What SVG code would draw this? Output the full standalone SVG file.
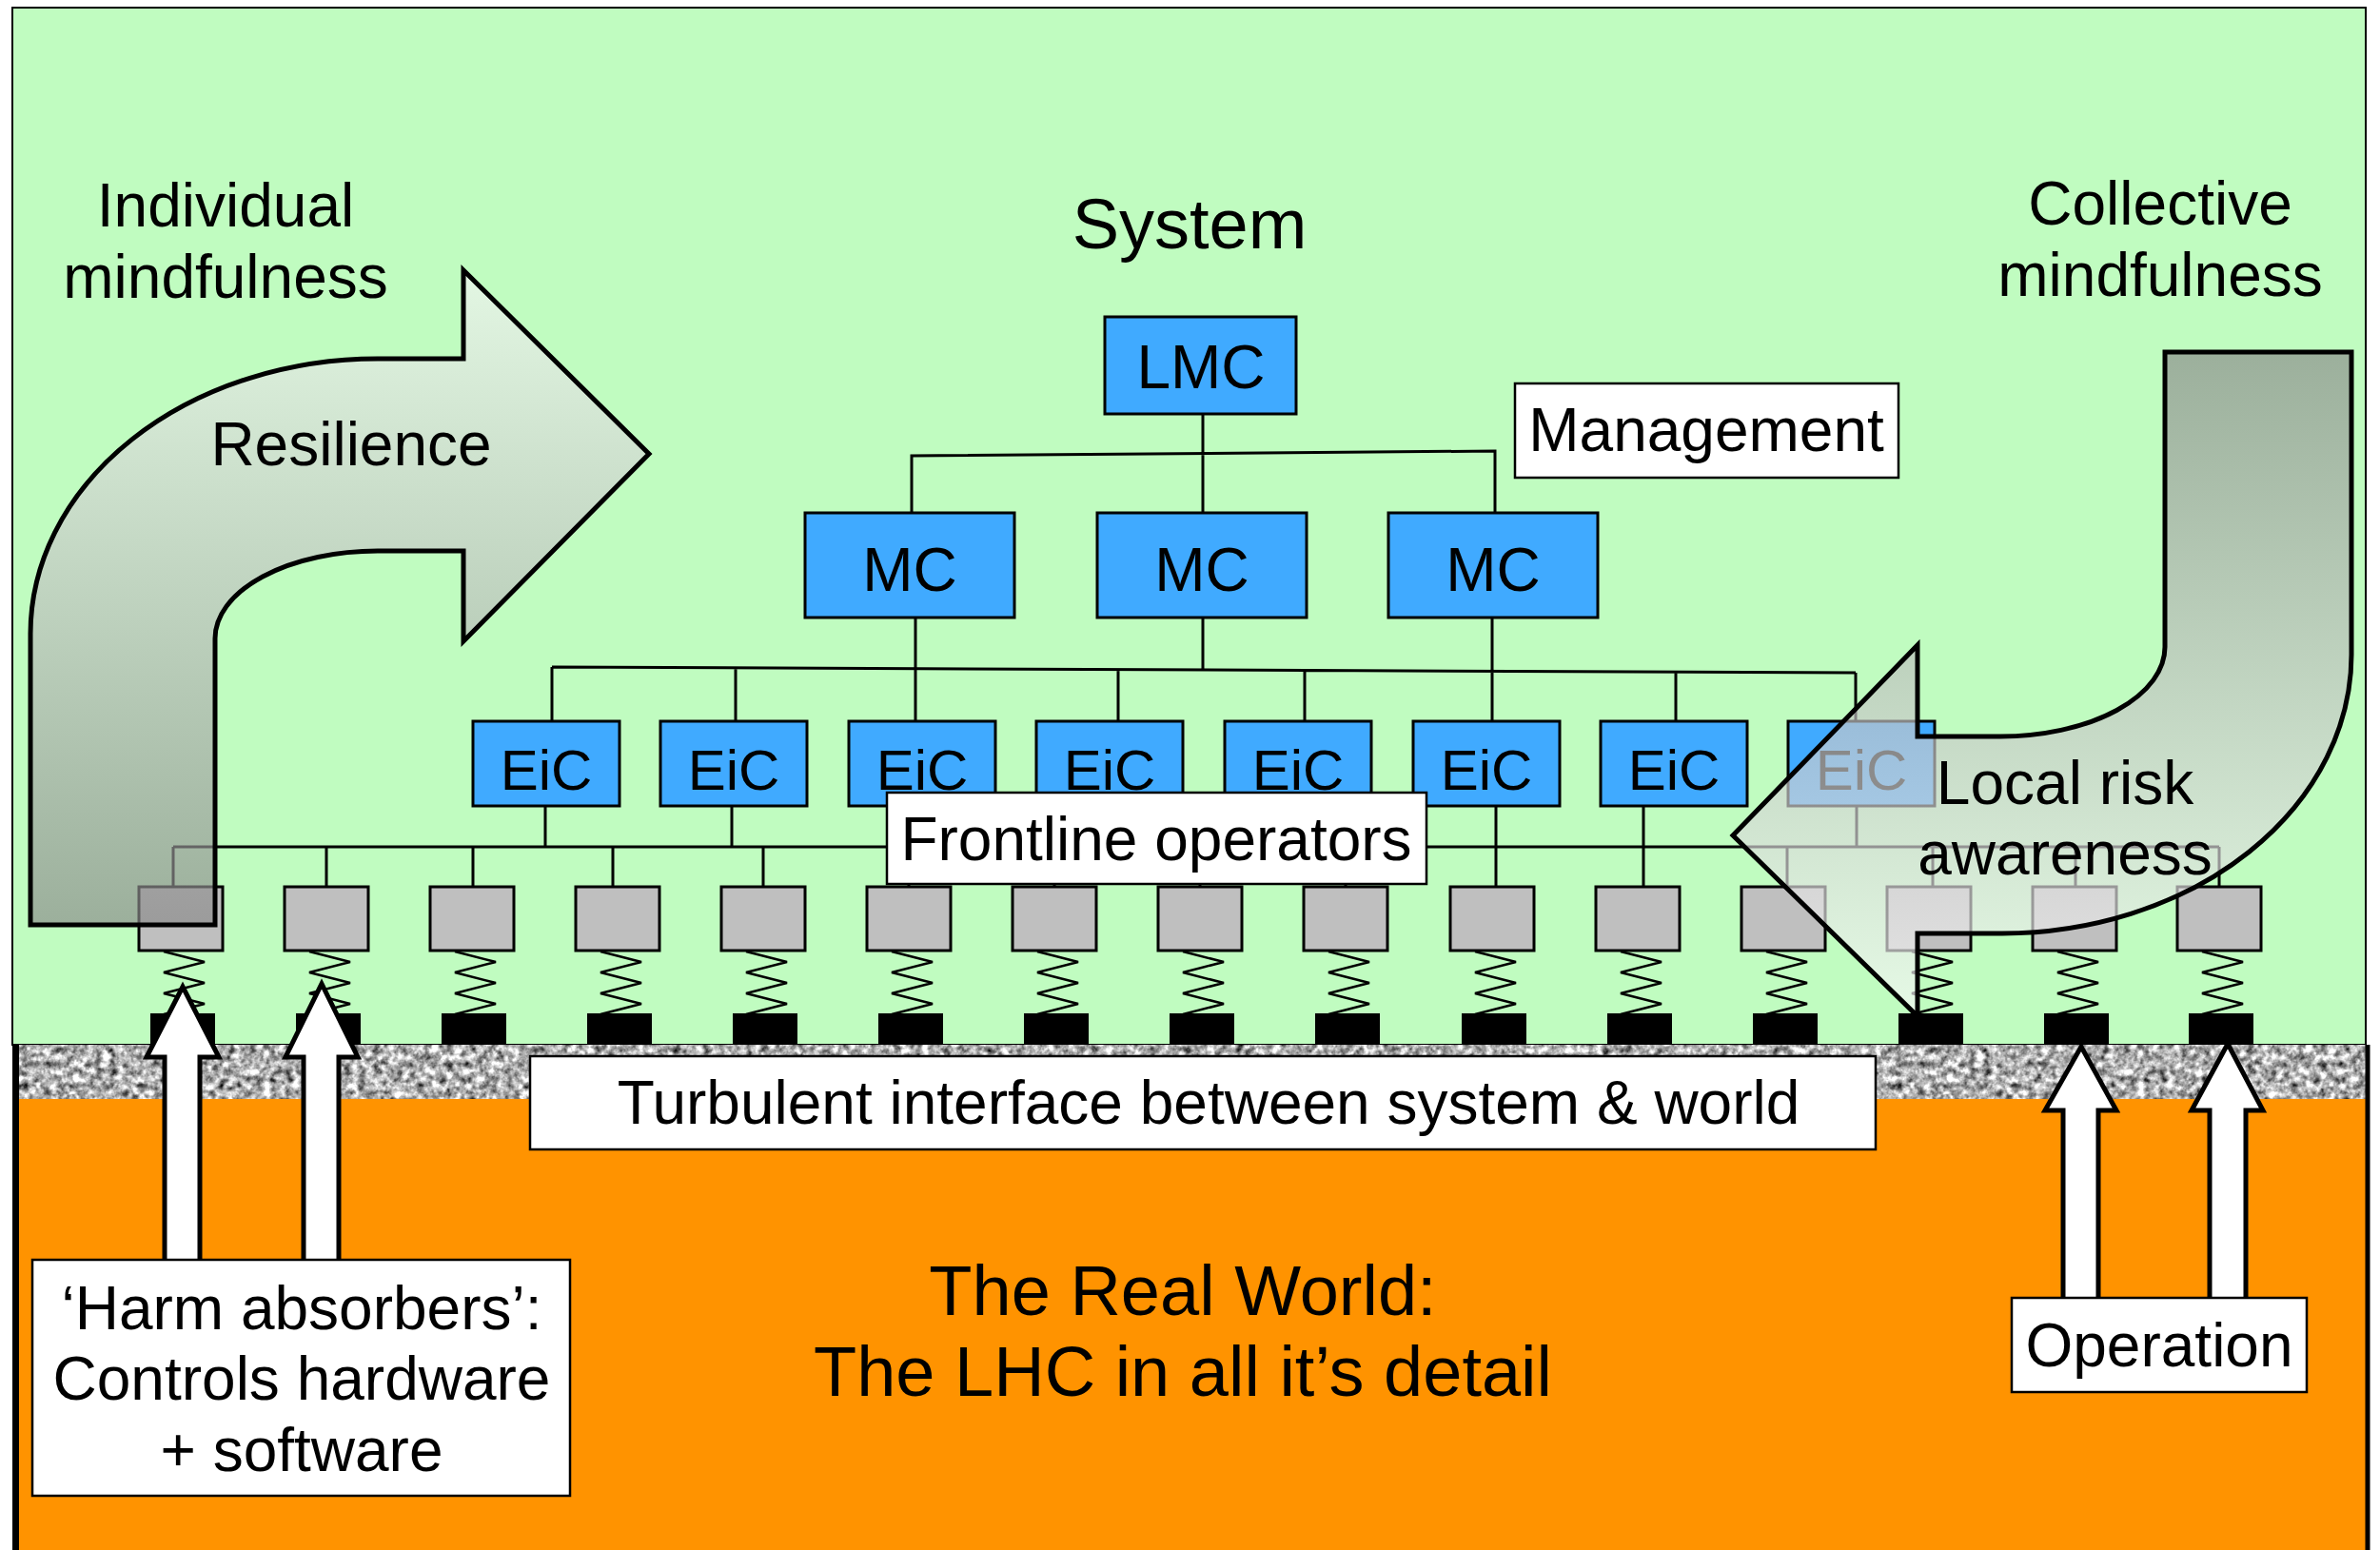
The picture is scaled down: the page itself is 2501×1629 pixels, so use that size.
<svg xmlns="http://www.w3.org/2000/svg" xmlns:xlink="http://www.w3.org/1999/xlink" width="2501" height="1629" viewBox="0 0 2501 1629">
<style>
text{font-family:"Liberation Sans",Arial,Helvetica,sans-serif;fill:#000}
.t64{font-size:64px}
.t60{font-size:60px}
.t74{font-size:74px}
.mid{text-anchor:middle}
.blue{fill:#40aaff;stroke:#000;stroke-width:3}
.gray{fill:#bfbfbf;stroke:#000;stroke-width:3}
.white{fill:#fff;stroke:#000;stroke-width:2.5}
.con{fill:none;stroke:#000;stroke-width:3}
.spring{fill:none;stroke:#000;stroke-width:2.5}
.bigarrow{stroke:#000;stroke-width:5;stroke-linejoin:miter}
.up{fill:#fff;stroke:#000;stroke-width:5}
</style>
<defs>
<linearGradient id="gLeft" x1="0" y1="0" x2="0" y2="1">
<stop offset="0" stop-color="#f4f4f4"/>
<stop offset="1" stop-color="#8a8a8a"/>
</linearGradient>
<linearGradient id="gRight" x1="0" y1="0" x2="0" y2="1">
<stop offset="0" stop-color="#8a8a8a"/>
<stop offset="1" stop-color="#f8f8f8"/>
</linearGradient>
<filter id="granite" x="0" y="0" width="1" height="1" color-interpolation-filters="sRGB">
<feTurbulence type="fractalNoise" baseFrequency="0.13" numOctaves="3" seed="7"/>
<feColorMatrix type="matrix" values="0.33 0.33 0.33 0 0 0.33 0.33 0.33 0 0 0.33 0.33 0.33 0 0 0 0 0 0 1"/>
<feComponentTransfer>
<feFuncR type="linear" slope="2.6" intercept="-0.6"/>
<feFuncG type="linear" slope="2.6" intercept="-0.6"/>
<feFuncB type="linear" slope="2.6" intercept="-0.6"/>
</feComponentTransfer>
</filter>
<g id="op">
<rect x="-44" y="932" width="88" height="67" class="gray"/>
<path class="spring" d="M-18,1000 L25,1011 L-18,1022 L25,1033 L-18,1044 L25,1055 L-18,1066"/>
<rect x="-32" y="1065" width="68" height="33" fill="#000"/>
</g>
</defs>

<!-- background -->
<rect x="0" y="0" width="2501" height="1629" fill="#fff"/>
<rect x="13" y="8" width="2473" height="1090" fill="#c0fcc0" stroke="#000" stroke-width="2"/>
<rect x="18" y="1153" width="2470" height="476" fill="#ff9300"/>
<rect x="18" y="1098" width="2472" height="57" fill="#a8a8a8" filter="url(#granite)"/>
<line x1="16.5" y1="1098" x2="16.5" y2="1629" stroke="#000" stroke-width="7"/>
<line x1="2488" y1="1098" x2="2488" y2="1629" stroke="#000" stroke-width="5"/>

<!-- connectors -->
<g id="connectors" class="con">
<path d="M1264,435 V539 M958,539 V479 L1571,474 V539"/>
<path d="M580,701 L1950,707 M580,701 V758 M773,702 V758 M962,649 V758 M1175,704 V758 M1264,649 V703 M1371,705 V758 M1568,649 V758 M1761,706 V758 M1950,707 V758"/>
<path d="M182,890 L2332,890 M573,847 V890 M769,847 V890 M966,847 V890 M1164,847 V890 M1362,847 V890 M1572,847 V932 M1727,847 V932 M1951,847 V890"/>
<path d="M182,890 V932 M343,890 V932 M497,890 V932 M644,890 V932 M802,890 V932 M955,890 V932 M1108,890 V932 M1261,890 V932 M1414,890 V932 M1878,890 V932 M2031,890 V932 M2181,890 V932 M2332,890 V932"/>
</g>

<!-- management nodes -->
<g id="lmc"><rect x="1161" y="333" width="201" height="102" class="blue"/><text x="1262" y="408" class="t64 mid">LMC</text></g>
<g id="mc1"><rect x="846" y="539" width="220" height="110" class="blue"/><text x="956" y="621" class="t64 mid">MC</text></g>
<g id="mc2"><rect x="1153" y="539" width="220" height="110" class="blue"/><text x="1263" y="621" class="t64 mid">MC</text></g>
<g id="mc3"><rect x="1459" y="539" width="220" height="110" class="blue"/><text x="1569" y="621" class="t64 mid">MC</text></g>
<g id="management"><rect x="1592" y="403" width="403" height="99" class="white"/><text x="1793" y="474" class="t64 mid">Management</text></g>

<g id="eic1"><rect x="497" y="758" width="154" height="89" class="blue"/><text x="574" y="830" class="t60 mid">EiC</text></g>
<g id="eic2"><rect x="694" y="758" width="154" height="89" class="blue"/><text x="771" y="830" class="t60 mid">EiC</text></g>
<g id="eic3"><rect x="892" y="758" width="154" height="89" class="blue"/><text x="969" y="830" class="t60 mid">EiC</text></g>
<g id="eic4"><rect x="1089" y="758" width="154" height="89" class="blue"/><text x="1166" y="830" class="t60 mid">EiC</text></g>
<g id="eic5"><rect x="1287" y="758" width="154" height="89" class="blue"/><text x="1364" y="830" class="t60 mid">EiC</text></g>
<g id="eic6"><rect x="1485" y="758" width="154" height="89" class="blue"/><text x="1562" y="830" class="t60 mid">EiC</text></g>
<g id="eic7"><rect x="1682" y="758" width="154" height="89" class="blue"/><text x="1759" y="830" class="t60 mid">EiC</text></g>
<g id="eic8"><rect x="1879" y="758" width="154" height="89" class="blue"/><text x="1956" y="830" class="t60 mid">EiC</text></g>

<!-- operators -->
<g id="op1"><use xlink:href="#op" href="#op" x="190"/></g>
<g id="op2"><use xlink:href="#op" href="#op" x="343"/></g>
<g id="op3"><use xlink:href="#op" href="#op" x="496"/></g>
<g id="op4"><use xlink:href="#op" href="#op" x="649"/></g>
<g id="op5"><use xlink:href="#op" href="#op" x="802"/></g>
<g id="op6"><use xlink:href="#op" href="#op" x="955"/></g>
<g id="op7"><use xlink:href="#op" href="#op" x="1108"/></g>
<g id="op8"><use xlink:href="#op" href="#op" x="1261"/></g>
<g id="op9"><use xlink:href="#op" href="#op" x="1414"/></g>
<g id="op10"><use xlink:href="#op" href="#op" x="1568"/></g>
<g id="op11"><use xlink:href="#op" href="#op" x="1721"/></g>
<g id="op12"><use xlink:href="#op" href="#op" x="1874"/></g>
<g id="op13"><use xlink:href="#op" href="#op" x="2027"/></g>
<g id="op14"><use xlink:href="#op" href="#op" x="2180"/></g>
<g id="op15"><use xlink:href="#op" href="#op" x="2332"/></g>

<g id="frontline"><rect x="932" y="833" width="567" height="96" class="white"/><text x="1215" y="904" class="t64 mid">Frontline operators</text></g>

<!-- big curved arrows -->
<g id="resilience">
<path class="bigarrow" fill="url(#gLeft)" fill-opacity="0.67" d="M32,972 L32,666 A365,289 0 0 1 397,377 L487,377 L487,284 L682,477 L487,674 L487,579 L397,579 A171,92 0 0 0 226,671 L226,972 Z"/>
<text x="369" y="489" class="t64 mid">Resilience</text>
</g>
<g id="localrisk">
<path class="bigarrow" fill="url(#gRight)" fill-opacity="0.67" d="M2275,370 L2471,370 L2471,688 A367,293 0 0 1 2104,981 L2015,981 L2015,1068 L1821,878 L2015,678 L2015,774 L2102,774 A173,94 0 0 0 2275,680 Z"/>
<text x="2170" y="845" class="t64 mid">Local risk</text>
<text x="2170" y="919" class="t64 mid">awareness</text>
</g>

<!-- up arrows -->
<g id="harmarrows">
<path class="up" d="M173,1330 V1111 H154 L192,1037 L230,1111 H210 V1330 Z"/>
<path class="up" d="M319,1330 V1111 H300 L338,1034 L376,1111 H356 V1330 Z"/>
</g>
<g id="oparrows">
<path class="up" d="M2168,1370 V1167 H2149 L2187,1100 L2224,1167 H2205 V1370 Z"/>
<path class="up" d="M2322,1370 V1167 H2303 L2341,1097 L2378,1167 H2360 V1370 Z"/>
</g>

<!-- labels -->
<g id="turbulent"><rect x="557" y="1110" width="1414" height="98" class="white"/><text x="1270" y="1181" class="t64 mid">Turbulent interface between system &amp; world</text></g>
<g id="harm"><rect x="34" y="1324" width="565" height="248" class="white"/>
<text x="317" y="1397" class="t64 mid">‘Harm absorbers’:</text>
<text x="317" y="1471" class="t64 mid">Controls hardware</text>
<text x="317" y="1546" class="t64 mid">+ software</text></g>
<g id="operation"><rect x="2114" y="1364" width="310" height="99" class="white"/><text x="2269" y="1436" class="t64 mid">Operation</text></g>

<g id="titles">
<text x="237" y="238" class="t64 mid">Individual</text>
<text x="237" y="313" class="t64 mid">mindfulness</text>
<text x="1250" y="261" class="t74 mid">System</text>
<text x="2270" y="236" class="t64 mid">Collective</text>
<text x="2270" y="311" class="t64 mid">mindfulness</text>
<text x="1243" y="1382" class="t74 mid">The Real World:</text>
<text x="1243" y="1467" class="t74 mid">The LHC in all it’s detail</text>
</g>
</svg>
